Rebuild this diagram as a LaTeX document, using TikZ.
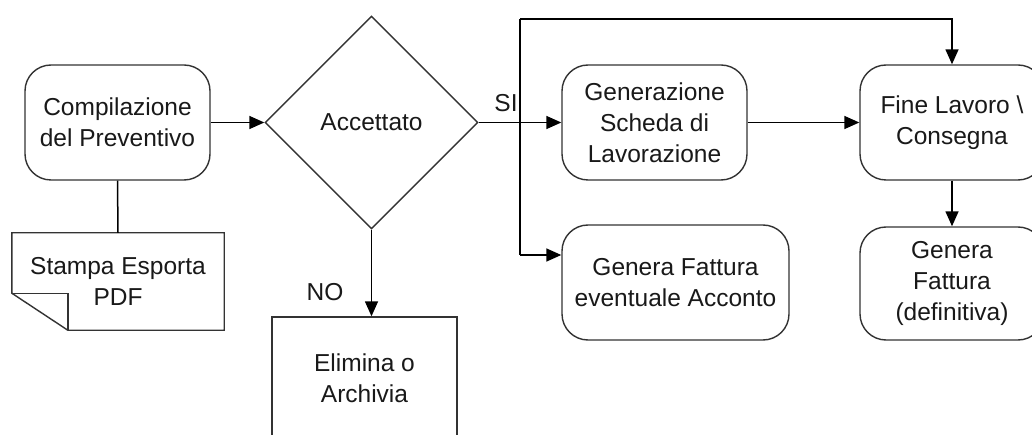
\documentclass[tikz,border=0pt]{standalone}
\usepackage{fontspec}
\setmainfont{Liberation Sans}
\usetikzlibrary{shapes.geometric,arrows.meta,calc}
\begin{document}
\begin{tikzpicture}[x=1pt,y=-1pt,
  txt/.style={font=\fontsize{24.5}{31}\selectfont, text=black!90},
  box/.style={txt, draw=black!80, line width=1.4pt, rounded corners=26pt,
    minimum width=185pt, minimum height=115pt, align=center, inner sep=0pt},
  sqbox/.style={txt, draw=black!80, line width=1.4pt,
    minimum width=185pt, minimum height=122pt, align=center, inner sep=0pt},
  docbox/.style={txt, minimum width=212pt, minimum height=97pt, align=center, inner sep=0pt},
  decision/.style={txt, draw=black!80, line width=1.4pt, diamond,
    minimum width=213pt, minimum height=213pt, inner sep=0pt},
  conn/.style={line width=1.5pt, black},
  arr/.style={conn, -{Triangle[length=15pt,width=13pt]}},
  lbl/.style={txt, inner sep=0pt}
]
\useasboundingbox (0,0) rectangle (1032,435);
\clip (0,0) rectangle (1032,435);
\fill[white] (0,0) rectangle (1032,435);

% nodes
\node[box] (comp) at (117.5,122.5) {Compilazione\\del Preventivo};
\node[docbox] (doc) at (118,281.5) {Stampa Esporta\\PDF};
\node[decision] (dia) at (371.5,122.5) {Accettato};
\node[box] (gen) at (654.5,122.5) {Generazione\\Scheda di\\Lavorazione};
\node[box, minimum width=227pt] (acc) at (675.5,282.5) {Genera Fattura\\eventuale Acconto};
\node[box, minimum width=184pt] (fine) at (952,122.5) {Fine Lavoro \textbackslash\\Consegna};
\node[box, minimum width=184pt, minimum height=113pt] (def) at (952,283.5) {Genera\\Fattura\\(definitiva)};
\node[sqbox] (elim) at (364.5,378) {Elimina o\\Archivia};
\node[lbl] (si) at (506,103) {SI};
\node[lbl] (no) at (325,292) {NO};

% document shape
\draw[draw=black!80, line width=1.4pt]
  (doc.north west) -- (doc.north east) -- (doc.south east)
  -- ($(doc.south west)+(56,0)$) -- ($(doc.south west)+(0,-37)$) -- cycle;
\draw[draw=black!80, line width=1.4pt]
  ($(doc.south west)+(0,-37)$) -- ($(doc.south west)+(56,-37)$) -- ($(doc.south west)+(56,0)$);

% connectors
\coordinate (j) at (520,122.5);
\coordinate (jt) at (520,19);
\coordinate (jb) at (520,255);
\draw[conn] (comp.south) -- (doc.north);
\draw[arr] (comp.east) -- (dia.west);
\draw[arr] (dia.east) -- (gen.west);
\draw[conn] (jt) -- (jb);
\draw[arr] (jb) -- (jb -| acc.west);
\draw[arr] (jt) -| (fine.north);
\draw[arr] (gen.east) -- (fine.west);
\draw[arr] (fine.south) -- (def.north);
\draw[arr] (dia.south) -- (dia.south |- elim.north);
\end{tikzpicture}
\end{document}
